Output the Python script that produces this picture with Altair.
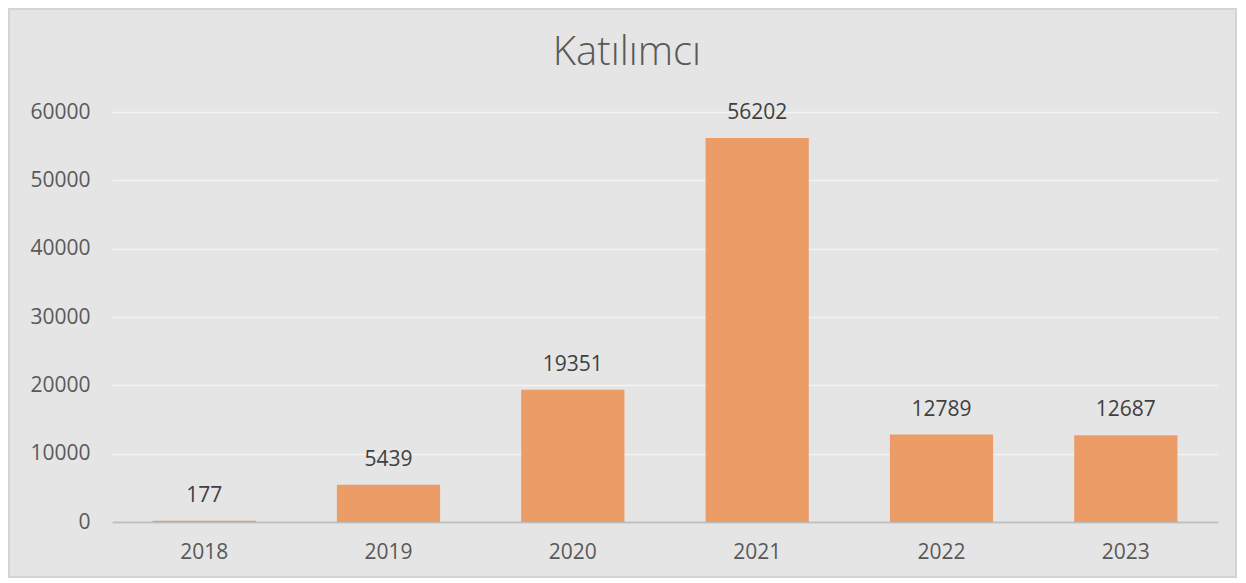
import altair as alt
import pandas as pd

years = ["2018", "2019", "2020", "2021", "2022", "2023"]
values = [177, 5439, 19351, 56202, 12789, 12687]

df = pd.DataFrame({"year": years, "value": values})

W, H = 1106, 410
PL, PT, PR, PB = 104, 104, 19, 56

base = alt.Chart(df).encode(
    x=alt.X("year:N", sort=years, title=None,
            scale=alt.Scale(paddingInner=0.44, paddingOuter=0.22),
            axis=alt.Axis(labelAngle=0, labelFontSize=21, labelColor="#595959",
                          labelFont="Open Sans", labelPadding=19, ticks=False,
                          domainColor="#bfbfbf", domainWidth=2, grid=False)),
)

bars = base.mark_bar(color="#ec9c66").encode(
    y=alt.Y("value:Q", title=None,
            scale=alt.Scale(domain=[0, 60000], nice=False),
            axis=alt.Axis(values=[0, 10000, 20000, 30000, 40000, 50000, 60000],
                          format="d", labelFontSize=21, labelColor="#595959",
                          labelFont="Open Sans", labelPadding=22, ticks=False,
                          domain=False, gridColor="#f4f4f4", gridWidth=1.5))
)

labels = base.mark_text(dy=-19, baseline="alphabetic", fontSize=21,
                        font="Open Sans", color="#404040").encode(
    y=alt.Y("value:Q"),
    text=alt.Text("value:Q", format="d"),
)

border = alt.Chart(df).mark_rect(fill=None, stroke="#d4d4d4", strokeWidth=1.5).encode(
    x=alt.value(-PL + 0.75), x2=alt.value(W + PR - 0.75),
    y=alt.value(-PT + 0.75), y2=alt.value(H + PB - 0.75),
)

chart = alt.layer(border, bars, labels).properties(
    width=W, height=H,
    padding={"left": PL, "top": PT, "right": PR, "bottom": PB},
    autosize=alt.AutoSizeParams(type="none"),
    background="#e5e5e5",
    title=alt.TitleParams("Katılımcı", fontSize=40, font="Open Sans",
                          fontWeight=300, color="#595959", anchor="middle",
                          baseline="alphabetic", offset=-97, dx=-38),
).configure_view(stroke=None)

chart.save("out.html", embed_options={"renderer": "svg", "actions": False})
